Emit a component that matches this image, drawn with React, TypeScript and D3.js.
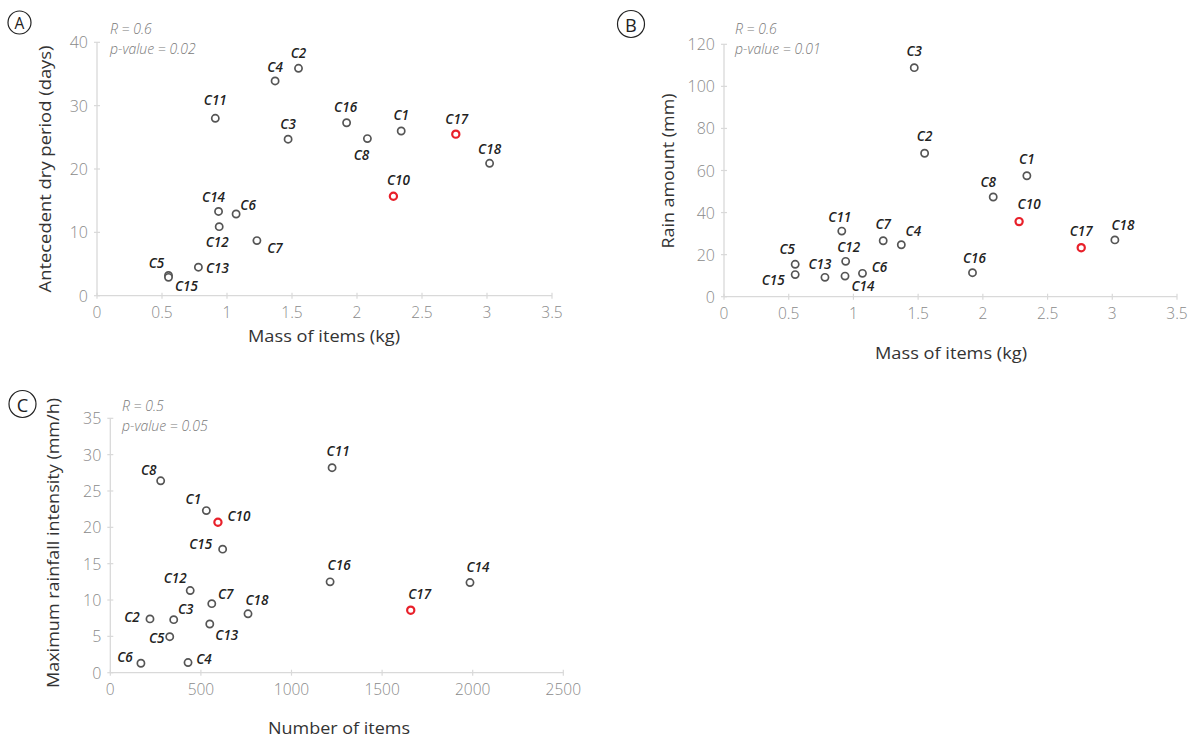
import React from "react";
import * as d3 from "d3";

const labels = ["C1","C2","C3","C4","C5","C6","C7","C8","C10","C11","C12","C13","C14","C15","C16","C17","C18"];
const massKg = [2.34,1.55,1.47,1.37,0.55,1.07,1.23,2.08,2.28,0.91,0.94,0.78,0.935,0.55,1.92,2.76,3.02];
const dryDays = [26.0,35.9,24.7,33.9,3.2,12.9,8.7,24.8,15.7,28.0,10.9,4.5,13.3,2.9,27.3,25.5,20.9];
const rainMm = [57.5,68.2,108.9,24.7,15.4,11.1,26.6,47.4,35.7,31.2,16.8,9.2,9.8,10.5,11.4,23.3,27.0];
const itemCount = [530,219,350,429,328,169,560,278,594,1224,441,549,1985,620,1213,1658,760];
const maxIntensity = [22.3,7.4,7.3,1.4,4.95,1.3,9.5,26.4,20.7,28.2,11.3,6.7,12.4,17.0,12.5,8.6,8.1];
const highlighted = ["C10","C17"];

const massTicks = [0,0.5,1,1.5,2,2.5,3,3.5];
const dryTicks = [0,10,20,30,40];
const rainTicks = [0,20,40,60,80,100,120];
const countTicks = [0,500,1000,1500,2000,2500];
const intensityTicks = [0,5,10,15,20,25,30,35];

// label placement (label centre relative to marker, px)
const offA: Record<string, [number, number]> = {
  C1:[0,-16],C2:[0,-15],C3:[0,-15],C4:[0,-14],C5:[-12,-12],C6:[12,-9],C7:[18,7],C8:[-6,16],
  C10:[5,-16],C11:[0,-18],C12:[-2,15],C13:[19,1],C14:[-5,-14],C15:[18,9],C16:[-1,-16],C17:[1,-15],C18:[0,-14],
};
const offB: Record<string, [number, number]> = {
  C1:[0,-17],C2:[0,-17],C3:[0,-17],C4:[12,-14],C5:[-8,-15],C6:[17,-6],C7:[0,-17],C8:[-5,-15],
  C10:[10,-18],C11:[-2,-14],C12:[3,-14],C13:[-5,-13],C14:[18,10],C15:[-22,5],C16:[2,-15],C17:[0,-17],C18:[8,-15],
};
const offC: Record<string, [number, number]> = {
  C1:[-13,-12],C2:[-18,-2],C3:[12,-11],C4:[16,-4],C5:[-13,1],C6:[-16,-6],C7:[14,-10],C8:[-12,-11],
  C10:[21,-6],C11:[6,-17],C12:[-15,-13],C13:[17,11],C14:[8,-16],C15:[-22,-5],C16:[9,-17],C17:[9,-16],C18:[9,-14],
};

const tickFont = "'Open Sans', sans-serif";

type PanelProps = {
  letter: string; letterCx: number; letterCy: number; letterR: number;
  xs: number[]; ys: number[];
  xDomain: [number, number]; xRange: [number, number];
  yDomain: [number, number]; yRange: [number, number];
  xTicks: number[]; yTicks: number[];
  offsets: Record<string, [number, number]>;
  rText: string; pText: string; statX: number; statY: number;
  xTitle: string; xTitleX: number; xTitleY: number; xTitleLen: number;
  yTitle: string; yTitleX: number; yTitleY: number; yTitleLen: number;
};

function Panel(p: PanelProps) {
  const x = d3.scaleLinear().domain(p.xDomain).range(p.xRange);
  const y = d3.scaleLinear().domain(p.yDomain).range(p.yRange);
  const x0 = x(p.xDomain[0]);
  const y0 = y(p.yDomain[0]);
  const axisColor = "#d9d9d9";
  return (
    <g>
      <circle cx={p.letterCx} cy={p.letterCy} r={p.letterR} fill="none" stroke="#222" strokeWidth={1.2} />
      <text x={p.letterCx} y={p.letterCy + 0.5} textAnchor="middle" dominantBaseline="central"
        fontFamily={tickFont} fontSize={p.letterR * 1.35} fill="#222">{p.letter}</text>

      {/* axes */}
      <line x1={x0} x2={x(p.xDomain[1])} y1={y0} y2={y0} stroke={axisColor} strokeWidth={1.3} />
      <line x1={x0} x2={x0} y1={y0} y2={y(p.yDomain[1])} stroke={axisColor} strokeWidth={1.3} />
      {p.xTicks.map((t) => (
        <g key={"xt" + t}>
          <line x1={x(t)} x2={x(t)} y1={y0 - 3} y2={y0 + 3} stroke={axisColor} strokeWidth={1.2} />
          <text x={x(t)} y={y0 + 16} textAnchor="middle" dominantBaseline="central"
            fontFamily={tickFont} fontWeight={300} fontSize={15.5} fill="#8a8a8a">{String(t)}</text>
        </g>
      ))}
      {p.yTicks.map((t) => (
        <g key={"yt" + t}>
          <line x1={x0 - 3} x2={x0 + 3} y1={y(t)} y2={y(t)} stroke={axisColor} strokeWidth={1.2} />
          <text x={x0 - 9} y={y(t)} textAnchor="end" dominantBaseline="central"
            fontFamily={tickFont} fontWeight={300} fontSize={16} fill="#8a8a8a">{String(t)}</text>
        </g>
      ))}

      {/* stats */}
      <text x={p.statX} y={p.statY} dominantBaseline="central" fontFamily={tickFont} fontWeight={300}
        fontStyle="italic" fontSize={14} fill="#7a7a7a">{p.rText}</text>
      <text x={p.statX} y={p.statY + 20} dominantBaseline="central" fontFamily={tickFont} fontWeight={300}
        fontStyle="italic" fontSize={14} fill="#7a7a7a">{p.pText}</text>

      {/* titles */}
      <text x={p.xTitleX} y={p.xTitleY} textAnchor="middle" dominantBaseline="central" fontFamily={tickFont}
        fontSize={16} fill="#333" textLength={p.xTitleLen} lengthAdjust="spacingAndGlyphs">{p.xTitle}</text>
      <text transform={`translate(${p.yTitleX},${p.yTitleY}) rotate(-90)`} textAnchor="middle"
        dominantBaseline="central" fontFamily={tickFont} fontSize={16} fill="#333"
        textLength={p.yTitleLen} lengthAdjust="spacingAndGlyphs">{p.yTitle}</text>

      {/* points */}
      {labels.map((lab, i) => {
        const red = highlighted.includes(lab);
        const cx = x(p.xs[i]);
        const cy = y(p.ys[i]);
        const o = p.offsets[lab] || [0, -15];
        return (
          <g key={lab}>
            <circle cx={cx} cy={cy} r={3.6} fill="#fff" stroke={red ? "#e8202a" : "#555"} strokeWidth={red ? 2.2 : 1.7} />
            <text x={cx + o[0]} y={cy + o[1]} textAnchor="middle" dominantBaseline="central"
              fontFamily={tickFont} fontStyle="italic" fontWeight={600} fontSize={13.5} fill="#222">{lab}</text>
          </g>
        );
      })}
    </g>
  );
}

export default function App() {
  return (
    <svg width={1197} height={738} style={{ position: "absolute", left: 0, top: 0, background: "#fff" }}>
      <rect width={1197} height={738} fill="#fff" />
      <Panel letter="A" letterCx={19.5} letterCy={22.5} letterR={11.5}
        xs={massKg} ys={dryDays} xDomain={[0, 3.5]} xRange={[97, 552]} yDomain={[0, 40]} yRange={[295.7, 42.3]}
        xTicks={massTicks} yTicks={dryTicks} offsets={offA}
        rText="R = 0.6" pText="p-value = 0.02" statX={110} statY={28}
        xTitle="Mass of items (kg)" xTitleX={324} xTitleY={336} xTitleLen={152}
        yTitle="Antecedent dry period (days)" yTitleX={45} yTitleY={169} yTitleLen={247} />
      <Panel letter="B" letterCx={631} letterCy={24} letterR={13.5}
        xs={massKg} ys={rainMm} xDomain={[0, 3.5]} xRange={[724, 1177]} yDomain={[0, 120]} yRange={[296.7, 44.3]}
        xTicks={massTicks} yTicks={rainTicks} offsets={offB}
        rText="R = 0.6" pText="p-value = 0.01" statX={735} statY={28}
        xTitle="Mass of items (kg)" xTitleX={951} xTitleY={353} xTitleLen={152}
        yTitle="Rain amount (mm)" yTitleX={668} yTitleY={171} yTitleLen={155} />
      <Panel letter="C" letterCx={22.5} letterCy={404} letterR={13.5}
        xs={itemCount} ys={maxIntensity} xDomain={[0, 2500]} xRange={[110.3, 563.3]} yDomain={[0, 35]} yRange={[672.7, 418.3]}
        xTicks={countTicks} yTicks={intensityTicks} offsets={offC}
        rText="R = 0.5" pText="p-value = 0.05" statX={122} statY={405}
        xTitle="Number of items" xTitleX={339} xTitleY={728} xTitleLen={142}
        yTitle="Maximum rainfall intensity (mm/h)" yTitleX={53} yTitleY={543} yTitleLen={290} />
    </svg>
  );
}
